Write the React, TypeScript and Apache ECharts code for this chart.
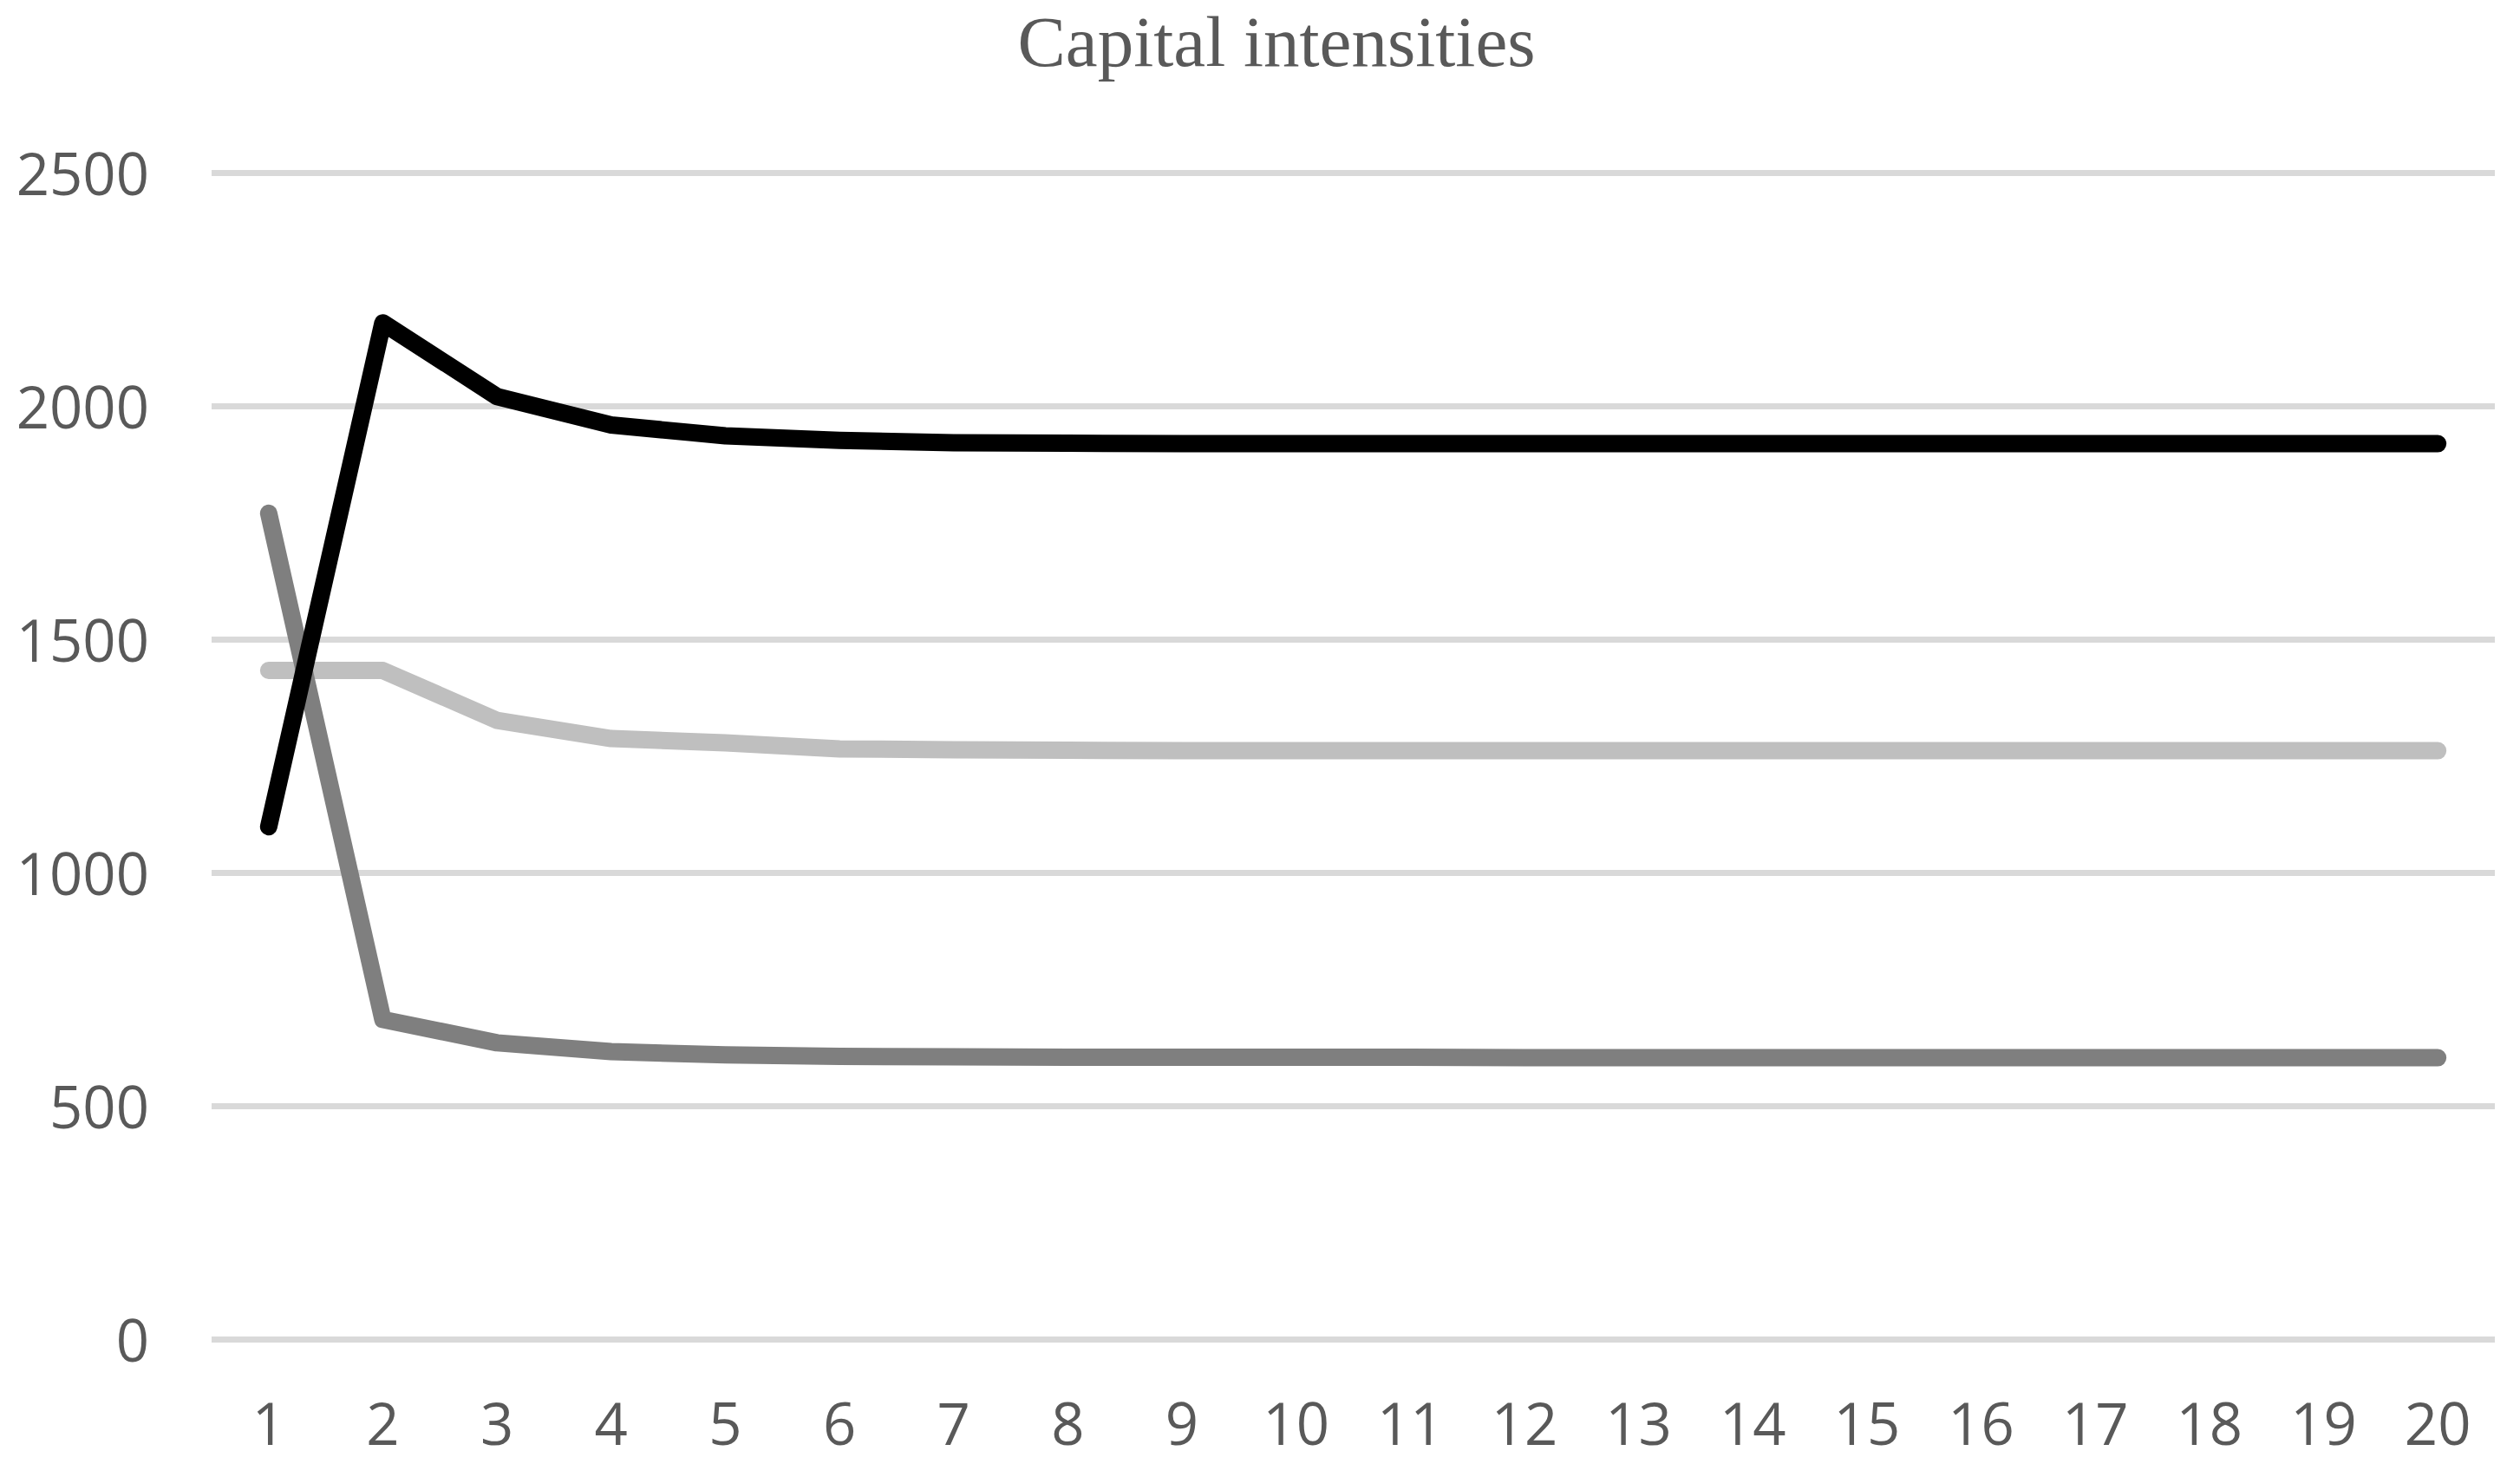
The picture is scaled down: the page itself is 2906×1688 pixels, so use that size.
import React, { useEffect, useRef } from "react";
import * as echarts from "echarts";

const categories = ["1","2","3","4","5","6","7","8","9","10","11","12","13","14","15","16","17","18","19","20"];
const blackSeries = [1098, 2178, 2020, 1959, 1936, 1926, 1921, 1920, 1919, 1919, 1919, 1919, 1919, 1919, 1919, 1919, 1919, 1919, 1919, 1919];
const lightSeries = [1433, 1433, 1326, 1287, 1278, 1265, 1263, 1262, 1261, 1261, 1261, 1261, 1261, 1261, 1261, 1261, 1261, 1261, 1261, 1261];
const midSeries = [1770, 685, 635, 616, 609, 606, 605, 604, 604, 604, 604, 603, 603, 603, 603, 603, 603, 603, 603, 603];
const titleText = "Capital intensities";

export default function App() {
  const ref = useRef<HTMLDivElement>(null);
  useEffect(() => {
    document.body.style.margin = "0";
    if (!ref.current) return;
    const chart = echarts.init(ref.current, undefined, { renderer: "svg" });
    const lineStyle = (color: string) => ({ color, width: 20, cap: "round", join: "round" });
    chart.setOption({
      animation: false,
      backgroundColor: "#ffffff",
      title: {
        text: titleText,
        left: 1467,
        top: 1,
        textAlign: "center",
        textStyle: { fontFamily: "Liberation Serif", fontWeight: "normal", fontSize: 83, color: "#595959" },
      },
      grid: { left: 244, right: 29, top: 199, bottom: 144, containLabel: false },
      xAxis: {
        type: "category",
        data: categories,
        boundaryGap: true,
        axisLine: { show: false },
        axisTick: { show: false },
        axisLabel: { fontFamily: "Open Sans", fontSize: 67, color: "#595959", margin: 62, interval: 0 },
        splitLine: { show: false },
      },
      yAxis: {
        type: "value",
        min: 0,
        max: 2500,
        interval: 500,
        axisLine: { show: false },
        axisTick: { show: false },
        axisLabel: {
          fontFamily: "Open Sans",
          fontSize: 67,
          color: "#595959",
          margin: 72,
          formatter: (v: number) => String(v),
        },
        splitLine: { show: true, lineStyle: { color: "#d9d9d9", width: 7 } },
      },
      series: [
        { type: "line", data: lightSeries, showSymbol: false, lineStyle: lineStyle("#bfbfbf"), itemStyle: { color: "#bfbfbf" } },
        { type: "line", data: midSeries, showSymbol: false, lineStyle: lineStyle("#7f7f7f"), itemStyle: { color: "#7f7f7f" } },
        { type: "line", data: blackSeries, showSymbol: false, lineStyle: lineStyle("#000000"), itemStyle: { color: "#000000" } },
      ],
    });
    return () => chart.dispose();
  }, []);
  return <div ref={ref} style={{ width: 2906, height: 1688 }} />;
}
